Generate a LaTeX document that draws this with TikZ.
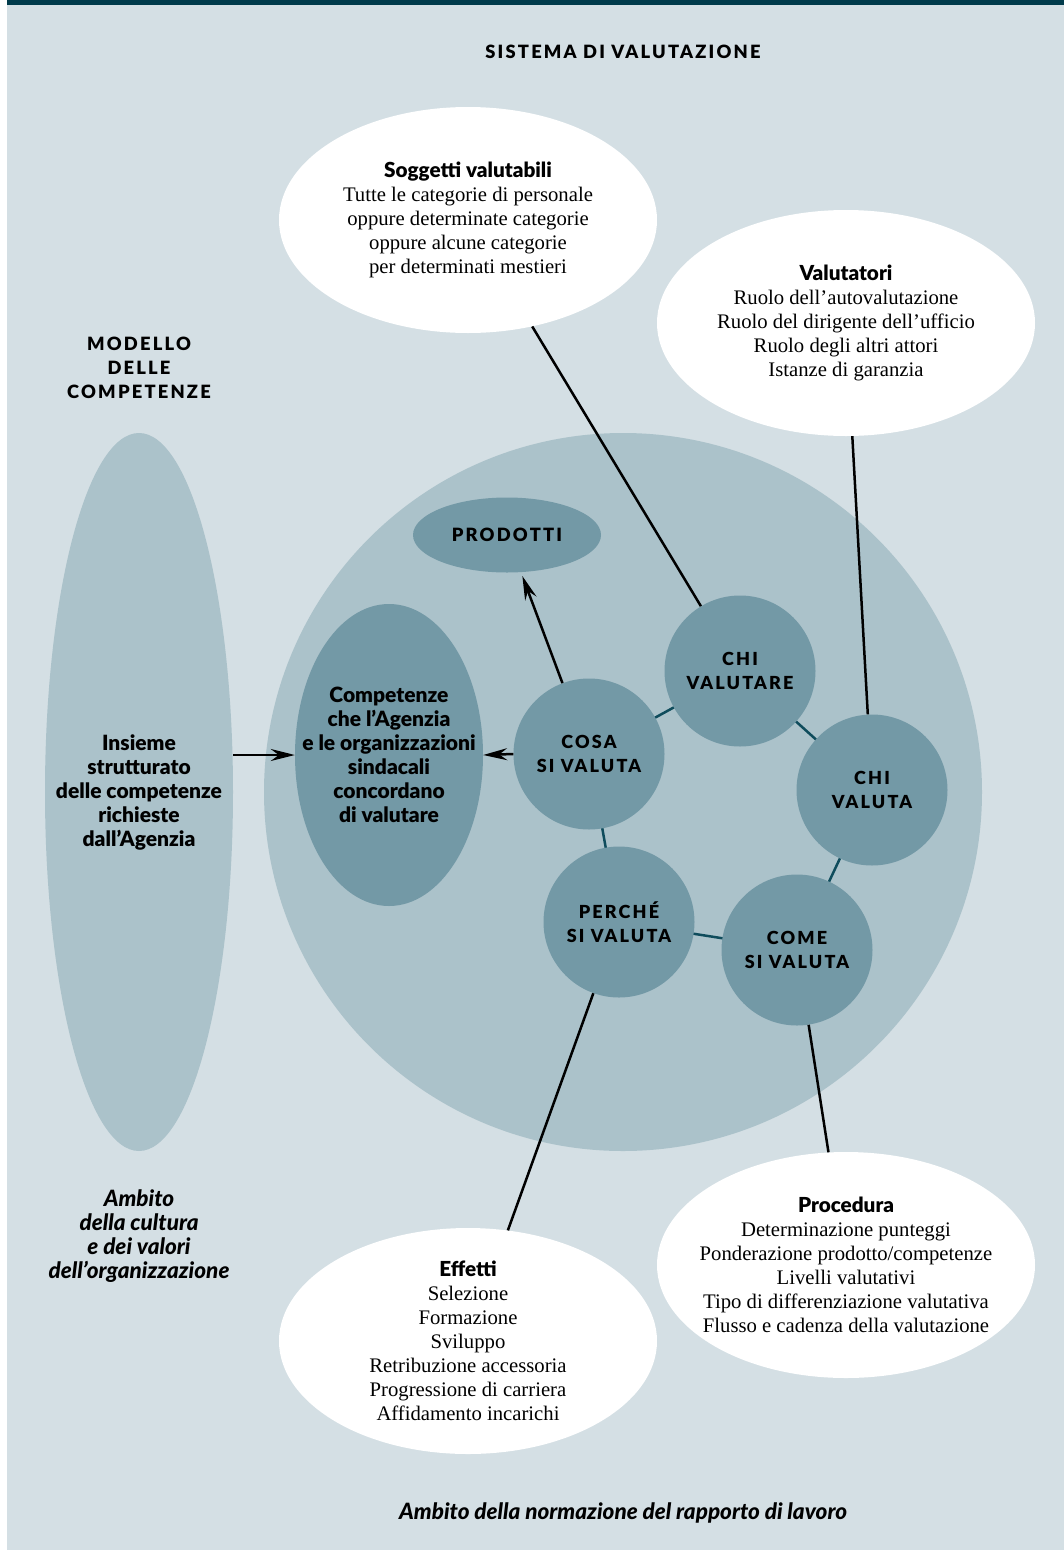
\documentclass[tikz,border=0pt]{standalone}
\usepackage{fontspec}
\setmainfont{Liberation Serif}
\setsansfont{Lato}[BoldFont={Lato Black},BoldItalicFont={Lato Black Italic}]
\newfontfamily\capsfont{Lato}[LetterSpace=12,BoldFont={Lato Black}]
\usetikzlibrary{shapes.geometric,arrows.meta}

\definecolor{sfondo}{HTML}{D4DFE4}
\definecolor{chiaro}{HTML}{ABC2CA}
\definecolor{medio}{HTML}{7399A6}
\definecolor{scuro}{HTML}{003B4B}
\definecolor{legame}{HTML}{0F4C5C}

\tikzset{
  bolla/.style={ellipse,fill=white,minimum width=378pt,minimum height=226pt,inner sep=0pt},
  testobolla/.style={align=center,font=\fontsize{20.7}{24}\selectfont},
  fase/.style={circle,fill=medio,minimum size=151pt,inner sep=0pt,align=center,font=\capsfont\bfseries\fontsize{18}{24}\selectfont},
  titolo/.style={align=center,font=\capsfont\bfseries\fontsize{18.3}{24}\selectfont},
  corsivo/.style={align=center,font=\sffamily\bfseries\itshape\fontsize{22.5}{24}\selectfont},
  grassetto/.style={align=center,font=\sffamily\bfseries\fontsize{21}{24}\selectfont},
  filo/.style={line width=2.5pt,black},
  anello/.style={line width=2.5pt,legame},
  freccia/.style={line width=2.5pt,-{Stealth[length=24pt,width=12pt,inset=8pt]}}
}

\begin{document}
\begin{tikzpicture}[x=1pt,y=-1pt]
\useasboundingbox (0,0) rectangle (1064,1550);
% background
\fill[sfondo] (7,0) rectangle (1064,1550);
\fill[scuro] (7,0) rectangle (1064,5);

% titles
\node[titolo] (sistema) at (623,52) {SISTEMA DI VALUTAZIONE};
\node[titolo] (modello) at (139,368) {MODELLO\\DELLE\\COMPETENZE};
\node[corsivo] (cultura) at (139,1236) {Ambito\\della cultura\\e dei valori\\dell’organizzazione};
\node[corsivo] (normazione) at (623,1513) {Ambito della normazione del rapporto di lavoro};

% big circle and left ellipse
\fill[chiaro] (623,792) circle [radius=359];
\node[ellipse,fill=chiaro,minimum width=188pt,minimum height=718pt,inner sep=0pt] (insieme) at (139,792) {};
\node[grassetto] at (insieme) {Insieme\\strutturato\\delle competenze\\richieste\\dall’Agenzia};

% inner ellipses
\node[ellipse,fill=medio,minimum width=188pt,minimum height=302pt,inner sep=0pt] (compet) at (389,755) {};
\node[grassetto] at (compet) {Competenze\\che l’Agenzia\\e le organizzazioni\\sindacali\\concordano\\di valutare};
\node[ellipse,fill=medio,minimum width=188pt,minimum height=75pt,inner sep=0pt] (prodotti) at (507,535) {};
\node[titolo] at (prodotti) {PRODOTTI};

% white ellipses
\node[bolla] (sogg) at (468,220) {};
\node[testobolla] at (sogg) {{\sffamily\bfseries Soggetti valutabili}\\Tutte le categorie di personale\\oppure determinate categorie\\oppure alcune categorie\\per determinati mestieri};
\node[bolla] (valut) at (846,323) {};
\node[testobolla] at (valut) {{\sffamily\bfseries Valutatori}\\Ruolo dell’autovalutazione\\Ruolo del dirigente dell’ufficio\\Ruolo degli altri attori\\Istanze di garanzia};
\node[bolla] (proc) at (846,1265) {};
\node[testobolla] at (proc) {{\sffamily\bfseries Procedura}\\Determinazione punteggi\\Ponderazione prodotto/competenze\\Livelli valutativi\\Tipo di differenziazione valutativa\\Flusso e cadenza della valutazione};
\node[bolla] (eff) at (468,1341) {};
\node[testobolla] at (eff) {{\sffamily\bfseries Effetti}\\Selezione\\Formazione\\Sviluppo\\Retribuzione accessoria\\Progressione di carriera\\Affidamento incarichi};

% ring of circles
\coordinate (c1) at (589,754);
\coordinate (c2) at (740,671);
\coordinate (c3) at (872,790);
\coordinate (c4) at (797,950);
\coordinate (c5) at (619,922);
\draw[anello] (c1) -- (c2) -- (c3) -- (c4) -- (c5) -- cycle;
\node[fase] (cosa) at (c1) {COSA\\SI VALUTA};
\node[fase] (chivalutare) at (c2) {CHI\\VALUTARE};
\node[fase] (chivaluta) at (c3) {CHI\\VALUTA};
\node[fase] (come) at (c4) {COME\\SI VALUTA};
\node[fase] (perche) at (c5) {PERCHÉ\\SI VALUTA};

% lines
\draw[filo] (sogg) -- (chivalutare);
\draw[filo] (valut) -- (chivaluta);
\draw[filo] (perche) -- (eff);
\draw[filo] (come) -- (proc);

% arrows
\draw[freccia] (compet.west -| insieme.east) -- (compet.west);
\draw[freccia] (cosa.west) -- (compet.east);
\draw[freccia,shorten >=4pt] (cosa) -- (prodotti);
\end{tikzpicture}
\end{document}
